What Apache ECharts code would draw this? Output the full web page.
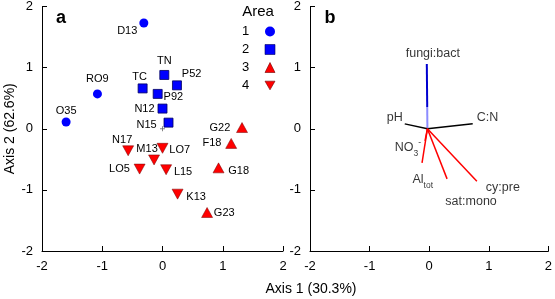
<!DOCTYPE html>
<html>
<head>
<meta charset="utf-8">
<script src="https://cdn.jsdelivr.net/npm/echarts@6/dist/echarts.min.js"></script>
<style>
  html, body { margin: 0; padding: 0; background: #fff; }
  #chart { width: 555px; height: 299px; }
</style>
</head>
<body>
<div id="chart"></div>
<script>
// panel a: site scores, one set of arrays per area
const area1Names = ['D13', 'RO9', 'O35'];
const area1X = [-0.31, -1.08, -1.60];
const area1Y = [1.73, 0.57, 0.11];

const area2Names = ['TC', 'TN', 'P52', 'P92', 'N12', 'N15'];
const area2X = [-0.33, 0.03, 0.24, -0.08, 0.00, 0.10];
const area2Y = [0.66, 0.88, 0.71, 0.57, 0.33, 0.10];

const area3Names = ['G22', 'F18', 'G18', 'G23'];
const area3X = [1.32, 1.14, 0.93, 0.74];
const area3Y = [0.02, -0.24, -0.64, -1.37];

const area4Names = ['N17', 'LO7', 'M13', 'LO5', 'L15', 'K13'];
const area4X = [-0.57, 0.00, -0.14, -0.38, 0.06, 0.25];
const area4Y = [-0.36, -0.32, -0.51, -0.66, -0.67, -1.07];

// panel b: variable vectors (tips), all drawn from the origin
const vecNames = ['fungi:bact', 'pH', 'C:N', 'NO3', 'Altot', 'sat:mono', 'cy:pre'];
const vecX = [-0.04, -0.41, 0.73, -0.07, -0.12, 0.30, 0.80];
const vecY = [1.06, 0.08, 0.08, -0.20, -0.56, -0.82, -0.86];
const vecOrigin = [-0.03, 0];

const axisMin = -2;
const axisMax = 2;
const axisStep = 1;

const FONT = 'Liberation Sans';

// where each site label sits relative to its marker
const siteLabel = {
  D13: { position: 'left', distance: 2, offset: [0, 8] },
  RO9: { position: 'top', distance: 5 },
  O35: { position: 'top', distance: 1 },
  TC:  { position: 'top', distance: 1, offset: [-3, 0] },
  TN:  { position: 'top', distance: 4 },
  P52: { position: 'right', distance: 0, offset: [0, -11] },
  P92: { position: 'right', distance: 1, offset: [0, 3] },
  N12: { position: 'left', distance: 3 },
  N15: { position: 'left', distance: 7, offset: [0, 2] },
  G22: { position: 'left', distance: 6 },
  F18: { position: 'left', distance: 4 },
  N17: { position: 'top', distance: 0, offset: [-6, 0] },
  M13: { position: 'top', distance: 0, offset: [-7, 0] },
  LO7: { position: 'right', distance: 1, offset: [0, 2] },
  LO5: { position: 'left', distance: 4 },
  L15: { position: 'right', distance: 2, offset: [0, 2] },
  K13: { position: 'right', distance: 3, offset: [0, 3] },
  G18: { position: 'right', distance: 4, offset: [0, 3] },
  G23: { position: 'right', distance: 1 }
};

// rich labels are anchored on their right edge (position 'left')
const vecLabel = {
  'fungi:bact': { position: 'top', distance: 4, offset: [6, 0] },
  'pH':         { position: 'left', distance: 2, offset: [0, -6] },
  'C:N':        { position: 'right', distance: 4, offset: [0, -6] },
  'NO3':        { position: 'left', distance: 4, offset: [0, 7], formatter: '{m|NO}{sub|3}{sup|-}' },
  'Altot':      { position: 'left', distance: 0, offset: [11, 17], formatter: '{m|Al}{sub|tot}' },
  'sat:mono':   { position: 'bottom', distance: 16, offset: [24, 0] },
  'cy:pre':     { position: 'right', distance: 9, offset: [0, 6] }
};
const vecColor = {
  'fungi:bact': '#0000d0', 'pH': '#000', 'C:N': '#000',
  'NO3': '#ff0000', 'Altot': '#ff0000', 'sat:mono': '#ff0000', 'cy:pre': '#ff0000'
};

function sitePoints(names, xs, ys) {
  return names.map((n, i) => ({ name: n, value: [xs[i], ys[i]], label: siteLabel[n] }));
}

function xAxisFor(gridIndex) {
  return {
    gridIndex: gridIndex, type: 'value', min: axisMin, max: axisMax, interval: axisStep,
    axisLine: { show: true, onZero: false, lineStyle: { color: '#000', width: 1 } },
    axisTick: { show: true, inside: true, length: 5, lineStyle: { color: '#000' } },
    axisLabel: { fontSize: 13, color: '#000', margin: 9, fontFamily: FONT },
    splitLine: { show: false }
  };
}
function yAxisFor(gridIndex, name) {
  return {
    gridIndex: gridIndex, type: 'value', min: axisMin, max: axisMax, interval: axisStep,
    name: name, nameLocation: 'middle', nameGap: 25, nameRotate: 90,
    nameTextStyle: { fontSize: 14, color: '#000', fontFamily: FONT },
    axisLine: { show: true, onZero: false, lineStyle: { color: '#000', width: 1 } },
    axisTick: { show: true, inside: true, length: 5, lineStyle: { color: '#000' } },
    axisLabel: { fontSize: 13, color: '#000', margin: 9, fontFamily: FONT },
    splitLine: { show: false }
  };
}

const siteLabelStyle = { show: true, formatter: '{b}', fontSize: 11, color: '#000', fontFamily: FONT };
const downTriangle = 'path://M0,0L10,0L5,8.66Z';

const series = [
  {
    name: '1', type: 'scatter', xAxisIndex: 0, yAxisIndex: 0,
    symbol: 'circle', symbolSize: 9,
    itemStyle: { color: '#0000ff', opacity: 1 },
    label: siteLabelStyle,
    data: sitePoints(area1Names, area1X, area1Y)
  },
  {
    name: '2', type: 'scatter', xAxisIndex: 0, yAxisIndex: 0,
    symbol: 'rect', symbolSize: 9,
    itemStyle: { color: '#0000ff', borderColor: '#000060', borderWidth: 0.8, opacity: 1 },
    label: siteLabelStyle,
    data: sitePoints(area2Names, area2X, area2Y)
  },
  {
    name: '3', type: 'scatter', xAxisIndex: 0, yAxisIndex: 0,
    symbol: 'triangle', symbolSize: [11, 10],
    itemStyle: { color: '#ff0000', borderColor: '#700000', borderWidth: 0.5, opacity: 1 },
    label: siteLabelStyle,
    data: sitePoints(area3Names, area3X, area3Y)
  },
  {
    name: '4', type: 'scatter', xAxisIndex: 0, yAxisIndex: 0,
    symbol: downTriangle, symbolSize: [11, 10],
    itemStyle: { color: '#ff0000', borderColor: '#700000', borderWidth: 0.5, opacity: 1 },
    label: siteLabelStyle,
    data: sitePoints(area4Names, area4X, area4Y)
  },
  {
    name: 'origin', type: 'scatter', xAxisIndex: 0, yAxisIndex: 0,
    symbol: 'path://M5,0L5,10M0,5L10,5', symbolSize: 5,
    itemStyle: { color: 'none', borderColor: '#666', borderWidth: 1 },
    data: [[0, 0]], z: 1
  }
];

// panel b vectors
vecNames.forEach((n, i) => {
  let color = vecColor[n];
  if (n === 'fungi:bact') {
    color = new echarts.graphic.LinearGradient(0, 0, 0, 1, [
      { offset: 0, color: '#0000d0' }, { offset: 0.65, color: '#0000d0' },
      { offset: 0.65, color: '#8c8cff' }, { offset: 1, color: '#8c8cff' }
    ]);
  }
  series.push({
    name: n, type: 'line', xAxisIndex: 1, yAxisIndex: 1,
    symbol: 'none', silent: true,
    lineStyle: { color: color, width: n === 'fungi:bact' ? 2 : 1.5 },
    data: [vecOrigin, [vecX[i], vecY[i]]]
  });
});

// labels at vector tips
series.push({
  name: 'vecLabels', type: 'scatter', xAxisIndex: 1, yAxisIndex: 1,
  symbolSize: 0, silent: true,
  label: {
    show: true, formatter: '{b}', fontSize: 12.5, color: '#000', fontFamily: FONT,
    rich: {
      m: { fontSize: 12.5, color: '#000', fontFamily: FONT, lineHeight: 20 },
      sub: { fontSize: 8.5, color: '#000', fontFamily: FONT, verticalAlign: 'bottom', lineHeight: 11 },
      sup: { fontSize: 8.5, color: '#000', fontFamily: FONT, verticalAlign: 'top', lineHeight: 11 }
    }
  },
  data: vecNames.map((n, i) => ({ name: n, value: [vecX[i], vecY[i]], label: vecLabel[n] }))
});

const chart = echarts.init(document.getElementById('chart'), null, { renderer: 'canvas' });
chart.setOption({
  animation: false,
  backgroundColor: '#fff',
  grid: [
    { left: 42, right: 272, top: 6, bottom: 48 },
    { left: 310, right: 4, top: 6, bottom: 48 }
  ],
  xAxis: [xAxisFor(0), xAxisFor(1)],
  yAxis: [yAxisFor(0, 'Axis 2 (62.6%)'), yAxisFor(1, '')],
  legend: {
    data: ['1', '2', '3', '4'],
    orient: 'vertical', left: 242, top: 25, padding: 0,
    itemWidth: 10, itemHeight: 10, itemGap: 5,
    align: 'right', selectedMode: false,
    itemStyle: { borderWidth: 0.6 },
    formatter: '{n|{name}}',
    textStyle: { rich: { n: { width: 18, align: 'left', fontSize: 13, color: '#000', fontFamily: FONT, lineHeight: 13 } } }
  },
  graphic: [
    { type: 'text', x: 61, y: 18, style: { text: 'a', fontSize: 18, fontWeight: 'bold', fontFamily: FONT, fill: '#000', textAlign: 'center', textVerticalAlign: 'middle' } },
    { type: 'text', x: 330, y: 18, style: { text: 'b', fontSize: 18, fontWeight: 'bold', fontFamily: FONT, fill: '#000', textAlign: 'center', textVerticalAlign: 'middle' } },
    { type: 'text', x: 258, y: 12, style: { text: 'Area', fontSize: 15, fontFamily: FONT, fill: '#000', textAlign: 'center', textVerticalAlign: 'middle' } },
    { type: 'text', x: 311, y: 289, style: { text: 'Axis 1 (30.3%)', fontSize: 14, fontFamily: FONT, fill: '#000', textAlign: 'center', textVerticalAlign: 'middle' } }
  ],
  series: series
});
</script>
</body>
</html>
